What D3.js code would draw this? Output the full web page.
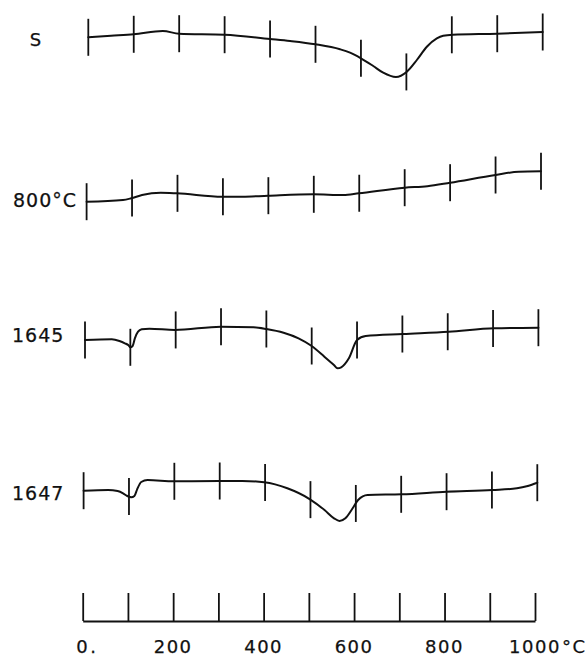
<!DOCTYPE html>
<html>
<head>
<meta charset="utf-8">
<script src="https://cdn.jsdelivr.net/npm/d3@7/dist/d3.min.js"></script>
<style>
  html, body { margin: 0; padding: 0; background: #fff; }
  svg { display: block; }
</style>
</head>
<body>
<svg id="chart" width="585" height="659"></svg>
<script>
// Differential thermal curves, 0–1000 °C.
// Deflection is in chart units (positive = up, negative = endothermic dip),
// measured from the starting level of each curve.

const tempTicks = [0, 100, 200, 300, 400, 500, 600, 700, 800, 900, 1000];
const axisLabelValues = [0, 200, 400, 600, 800, 1000];
const axisLabels = ["0", "200", "400", "600", "800", "1000"];
const axisLabelSuffix = [".", "", "", "", "", "°C"];

const curveNames = ["S", "800°C", "1645", "1647"];

const sTemp = [0, 50, 100, 164, 200, 300, 400, 444, 500, 554, 576, 600, 627, 649, 677, 701, 723, 745, 767, 781, 802, 900, 1000];
const sDefl = [0, 1.5, 3, 6.3, 3.6, 2.6, -1.7, -3.7, -7, -12, -15.4, -21, -28.7, -35.4, -39.7, -34.4, -22.7, -9.4, -1, 1.6, 2.6, 3.6, 5.3];

const s800Temp = [0, 80, 98, 122, 163, 199, 299, 343, 399, 499, 565, 599, 700, 750, 800, 900, 951, 1000];
const s800Defl = [0, 1.7, 3.4, 6.7, 9, 8.4, 5, 5, 6, 7.4, 6.7, 8.4, 14, 15.5, 19, 26.7, 30, 30.4];

const s1645Temp = [0, 59, 76, 88, 96, 100, 105, 110, 117, 125, 142, 198, 300, 372, 400, 438, 471, 500, 528, 549, 557, 565, 582, 600, 619, 701, 802, 903, 1000];
const s1645Defl = [0, 0.7, -1, -3.3, -5.3, -7.3, -6, 1.7, 8.3, 10.7, 11.3, 10, 13.3, 12.7, 11, 7.3, 1.7, -6, -16.7, -25, -28.3, -27.3, -18.3, 0, 4, 6, 8.3, 11.7, 12.3];

const s1647Temp = [0, 54, 75, 87, 95, 105, 112, 118, 127, 141, 199, 299, 350, 398, 449, 499, 531, 552, 564, 577, 593, 605, 626, 701, 800, 901, 955, 979, 1000];
const s1647Defl = [0, 0.7, -0.3, -2.6, -5, -6.6, -5.3, 1.4, 8.7, 10.7, 9.4, 9.7, 9.7, 8.4, 2.4, -8.6, -19.3, -27.6, -30.3, -27.6, -17.6, -9.3, -4.3, -3.6, -1, 0.7, 2.4, 4.7, 8];

const seriesTemps = [sTemp, s800Temp, s1645Temp, s1647Temp];
const seriesDefl = [sDefl, s800Defl, s1645Defl, s1647Defl];

// Layout of each strip: horizontal extent, starting level, label placement
const strips = [
  { x0: 88.3, x1: 542.7, base: 37.3,  labelX: 36, labelY: 46,  anchor: "middle", size: 18 },
  { x0: 86.6, x1: 541.0, base: 201.7, labelX: 13, labelY: 207, anchor: "start",  size: 19 },
  { x0: 85.0, x1: 538.4, base: 340.0, labelX: 12, labelY: 342, anchor: "start",  size: 19 },
  { x0: 83.6, x1: 537.3, base: 490.7, labelX: 12, labelY: 500, anchor: "start",  size: 19 }
];
const scaleBar = { x0: 82.7, x1: 535, y: 621, tickLen: 28, labelY: 652.5 };
const tickHalf = 18.5;
const ink = "#111";
const fontFamily = "'DejaVu Sans', 'Liberation Sans', sans-serif";

const svg = d3.select("#chart");

strips.forEach((st, i) => {
  const temps = seriesTemps[i];
  const defl = seriesDefl[i];
  const x = d3.scaleLinear().domain([0, 1000]).range([st.x0, st.x1]);
  const y = d3.scaleLinear().domain([0, 40]).range([st.base, st.base - 40]);
  // piecewise-linear reading of the curve, used to centre the temperature marks
  const reading = d3.scaleLinear().domain(temps).range(defl);

  const g = svg.append("g").attr("class", "strip");

  const pts = temps.map((t, k) => [t, defl[k]]);
  const line = d3.line()
    .x(d => x(d[0]))
    .y(d => y(d[1]))
    .curve(d3.curveMonotoneX);

  g.append("path")
    .datum(pts)
    .attr("d", line)
    .attr("fill", "none")
    .attr("stroke", ink)
    .attr("stroke-width", 2)
    .attr("stroke-linejoin", "round")
    .attr("stroke-linecap", "round");

  g.selectAll("line.mark")
    .data(tempTicks)
    .join("line")
    .attr("class", "mark")
    .attr("x1", d => x(d)).attr("x2", d => x(d))
    .attr("y1", d => y(reading(d)) - tickHalf)
    .attr("y2", d => y(reading(d)) + tickHalf)
    .attr("stroke", ink)
    .attr("stroke-width", 1.8);

  g.append("text")
    .attr("x", st.labelX)
    .attr("y", st.labelY)
    .attr("text-anchor", st.anchor)
    .attr("font-family", fontFamily)
    .attr("font-size", st.size)
    .attr("letter-spacing", 1)
    .attr("fill", ink)
    .attr("stroke", ink)
    .attr("stroke-width", 0.25)
    .text(curveNames[i]);
});

// Temperature scale bar along the bottom
const xs = d3.scaleLinear().domain([0, 1000]).range([scaleBar.x0, scaleBar.x1]);
const axis = d3.axisTop(xs)
  .tickValues(tempTicks)
  .tickSizeInner(scaleBar.tickLen)
  .tickSizeOuter(0)
  .tickFormat("");
const ag = svg.append("g")
  .attr("transform", `translate(0,${scaleBar.y})`)
  .call(axis);
ag.select(".domain").attr("stroke", ink).attr("stroke-width", 2);
ag.selectAll(".tick line").attr("stroke", ink).attr("stroke-width", 1.8);

const lg = svg.append("g")
  .attr("font-family", fontFamily)
  .attr("font-size", 18)
  .attr("fill", ink)
  .attr("stroke", ink)
  .attr("stroke-width", 0.25);

axisLabelValues.forEach((v, k) => {
  const t = lg.append("text")
    .attr("x", xs(v))
    .attr("y", scaleBar.labelY)
    .attr("text-anchor", "middle")
    .attr("letter-spacing", 1.5)
    .text(axisLabels[k]);
  if (axisLabelSuffix[k]) {
    const w = t.node().getComputedTextLength();
    lg.append("text")
      .attr("x", xs(v) + w / 2 + 1)
      .attr("y", scaleBar.labelY)
      .attr("letter-spacing", 1.5)
      .text(axisLabelSuffix[k]);
  }
});
</script>
</body>
</html>
